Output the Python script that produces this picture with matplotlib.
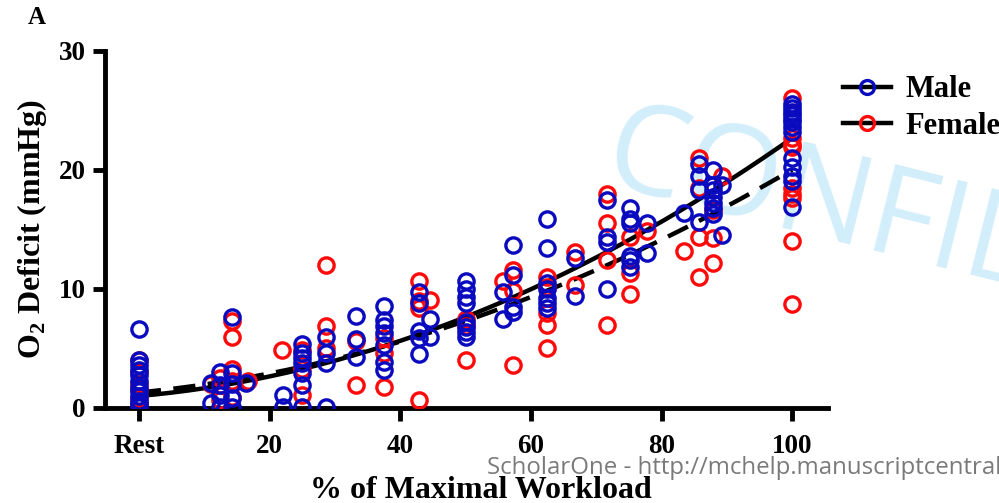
import numpy as np
import matplotlib
matplotlib.use("Agg")
import matplotlib.pyplot as plt
from matplotlib.lines import Line2D

# ---- data ----
male_x = ([0] * 12
          + [11.0, 11.0, 12.4, 12.4, 12.4, 12.4, 14.2, 14.2, 14.2, 14.2, 14.2, 16.4]
          + [22.1, 22.1]
          + [25] * 7
          + [28.6] * 4
          + [33.3] * 3
          + [37.5] * 7
          + [42.8] * 5
          + [44.5] * 2
          + [50.1] * 8
          + [55.7] * 2
          + [57.2] * 4
          + [62.5] * 7
          + [66.7] * 2
          + [71.6] * 4
          + [75.1] * 6
          + [77.8] * 2
          + [83.5]
          + [85.8] * 4
          + [87.8] * 7
          + [89.3] * 2
          + [100] * 13)
male_y = ([6.6, 4.0, 3.6, 3.2, 2.8, 2.3, 1.8, 1.4, 1.0, 0.6, 0.3, 0.1]
          + [2.1, 0.4, 3.0, 1.9, 1.1, 0.1, 7.6, 2.9, 2.0, 0.8, 0.1, 2.1]
          + [1.1, 0.1]
          + [5.4, 4.6, 4.2, 3.8, 2.9, 1.9, 0.1]
          + [6.0, 4.6, 3.8, 0.1]
          + [7.7, 5.8, 4.3]
          + [8.6, 7.4, 6.9, 6.3, 5.3, 3.9, 3.2]
          + [9.7, 8.8, 6.5, 5.9, 4.5]
          + [7.5, 6.0]
          + [10.7, 10.0, 9.3, 8.8, 7.2, 6.8, 6.4, 6.0]
          + [9.7, 7.5]
          + [13.7, 11.2, 8.5, 8.1]
          + [15.9, 13.4, 10.5, 10.0, 9.2, 8.8, 8.4]
          + [12.6, 9.4]
          + [17.5, 14.4, 13.9, 10.0]
          + [16.8, 15.9, 15.5, 12.8, 12.4, 11.8]
          + [15.5, 13.0]
          + [16.4]
          + [20.5, 19.5, 18.3, 15.6]
          + [20.0, 18.7, 18.3, 17.7, 17.2, 16.8, 16.3]
          + [18.7, 14.5]
          + [25.5, 25.2, 24.9, 24.6, 24.3, 24.0, 23.6, 23.2, 21.0, 20.2, 19.5, 19.1, 16.9])

female_x = ([0] * 6
            + [11.0, 12.4, 12.4, 14.2, 14.2, 14.2, 14.2, 14.2, 16.7]
            + [21.9]
            + [25] * 3
            + [28.6] * 3
            + [33.3] * 2
            + [37.5] * 3
            + [42.8] * 4
            + [44.5]
            + [50.1] * 3
            + [55.7]
            + [57.2] * 3
            + [62.5] * 5
            + [66.7] * 2
            + [71.6] * 4
            + [75.1] * 3
            + [77.8]
            + [83.5]
            + [85.8] * 4
            + [87.8] * 3
            + [89.3]
            + [100] * 9)
female_y = ([4.0, 3.0, 2.0, 1.5, 0.8, 0.3]
            + [2.0, 0.7, 2.5, 7.3, 6.0, 3.3, 2.3, 0.9, 2.3]
            + [4.9]
            + [4.9, 3.3, 1.1]
            + [12.0, 6.9, 5.0]
            + [5.6, 1.9]
            + [5.9, 4.6, 1.8]
            + [10.7, 9.0, 8.4, 0.7]
            + [9.1]
            + [7.5, 6.9, 4.0]
            + [10.7]
            + [11.6, 9.8, 3.6]
            + [11.0, 10.2, 8.0, 7.0, 5.0]
            + [13.1, 10.3]
            + [18.0, 15.5, 12.4, 7.0]
            + [14.4, 11.3, 9.6]
            + [14.9]
            + [13.2]
            + [21.0, 18.5, 14.4, 11.0]
            + [16.6, 14.3, 12.2]
            + [19.5]
            + [26.0, 22.7, 22.2, 21.9, 18.5, 18.0, 17.6, 14.0, 8.7])

# second-order fit coefficients (highest power first), as drawn in the figure
male_fit = [0.00168, 0.0487, 1.0]
female_fit = [0.00134, 0.0532, 1.3]

x_ticks = [0, 20, 40, 60, 80, 100]
x_ticklabels = ["Rest", "20", "40", "60", "80", "100"]
y_ticks = [0, 10, 20, 30]

BLUE = "#0a0abf"
RED = "#ff0a0a"

plt.rcParams["font.family"] = ["Liberation Serif", "DejaVu Serif"]
plt.rcParams["font.weight"] = "bold"

fig = plt.figure(figsize=(9.99, 5.03), dpi=100)
ax = fig.add_axes([0.105, 0.189, 0.724, 0.710])
ax.patch.set_visible(False)

# watermark behind everything
fig.text(0.600, 0.635, "CONFIDENTIAL", fontsize=90, color="#d3eefb", family="Open Sans",
         fontweight="normal", rotation=-14, rotation_mode="anchor", ha="left", va="baseline",
         zorder=-1)

xs = np.linspace(0, 100, 200)
ax.plot(xs, np.polyval(male_fit, xs), color="k", lw=3.2, zorder=2)
ax.plot(xs, np.polyval(female_fit, xs), color="k", lw=3.2, ls=(0, (5, 2.8)), zorder=2)

ax.plot(female_x, female_y, "o", ms=11, mfc="none", mec=RED, mew=2.4, zorder=3)
ax.plot(male_x, male_y, "o", ms=11, mfc="none", mec=BLUE, mew=2.4, zorder=4)

ax.set_xlim(-5.2, 105.5)
ax.set_ylim(0, 30)
ax.set_xticks(x_ticks)
ax.set_xticklabels(x_ticklabels)
ax.set_yticks(y_ticks)
for s in ("top", "right"):
    ax.spines[s].set_visible(False)
for s in ("left", "bottom"):
    ax.spines[s].set_linewidth(3.5)
ax.tick_params(width=3.5, length=9, labelsize=19.5, pad=5)
ax.tick_params(axis="x", pad=10)
ax.set_xlabel("% of Maximal Workload", fontsize=23, fontweight="bold")
ax.xaxis.set_label_coords(0.52, -0.19)
ax.set_ylabel(r"O$_\mathregular{2}$ Deficit (mmHg)", fontsize=23, fontweight="bold", labelpad=7)

handles = [
    Line2D([0], [0], color="k", lw=3.2, marker="o", ms=10, mfc="none", mec=BLUE, mew=2.4),
    Line2D([0], [0], color="k", lw=3.2, marker="o", ms=10, mfc="none", mec=RED, mew=2.4),
]
fig.legend(handles, ["Male", "Female"], loc="center left", bbox_to_anchor=(0.844, 0.785),
           frameon=False, fontsize=22, handlelength=1.55, handletextpad=0.5, labelspacing=0.25,
           borderaxespad=0, borderpad=0)

fig.text(0.037, 0.966, "A", fontsize=18, fontweight="bold", ha="center", va="center")

fig.text(0.487, 0.057, "ScholarOne - http://mchelp.manuscriptcentral.com", fontsize=17.3,
         color="#7a7a7a", family="Open Sans", fontweight="normal", ha="left", va="baseline")

fig.savefig("out.png", dpi=100)
